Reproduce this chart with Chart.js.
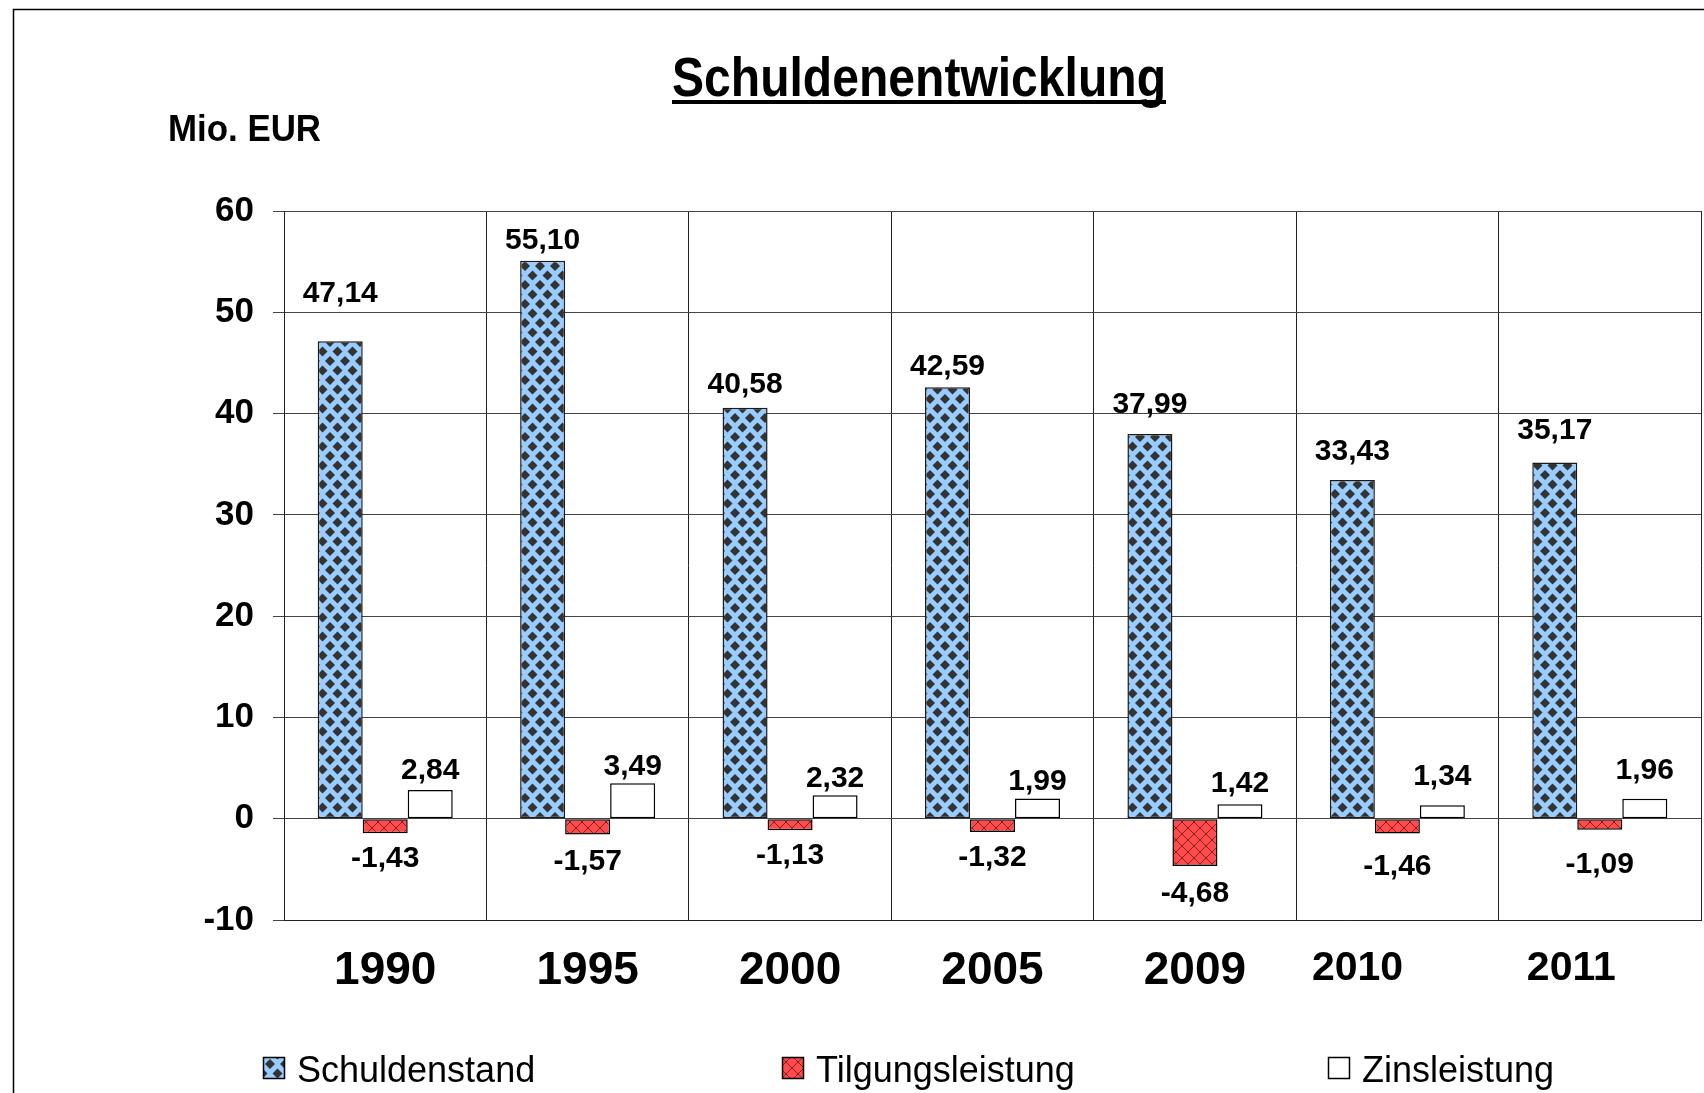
<!DOCTYPE html>
<html lang="de">
<head>
<meta charset="utf-8">
<title>Schuldenentwicklung</title>
<script src="https://cdn.jsdelivr.net/npm/chart.js@4.4.1/dist/chart.umd.min.js"></script>
<style>
  html, body { margin: 0; padding: 0; background: #fff; }
  #wrap { width: 1704px; height: 1093px; }
</style>
</head>
<body>
<div id="wrap"><canvas id="chartSchulden" width="1704" height="1093"></canvas></div>
<script>
const years = ['1990', '1995', '2000', '2005', '2009', '2010', '2011'];
const schuldenstand = [47.14, 55.10, 40.58, 42.59, 37.99, 33.43, 35.17];
const tilgungsleistung = [-1.43, -1.57, -1.13, -1.32, -4.68, -1.46, -1.09];
const zinsleistung = [2.84, 3.49, 2.32, 1.99, 1.42, 1.34, 1.96];
const yTicks = [-10, 0, 10, 20, 30, 40, 50, 60];

// label gap (px) between bar end and its value label, per year
const gapSchulden = [39, 12, 15, 12, 21, 20, 23];
const gapTilgung = [12, 13, 12, 12, 14, 19, 21];
const gapZins = [11, 8, 8, 9, 12, 20, 20];
// the last two year labels sit a bit left of centre in the original
const yearLabelPad = ['', '', '', '', '', '       ', '     '];

const FONT = "'Liberation Sans', Arial, Helvetica, sans-serif";

function makePattern(w, h, paint) {
  const c = document.createElement('canvas');
  c.width = w;
  c.height = h;
  paint(c.getContext('2d'), w, h);
  return document.createElement('canvas').getContext('2d').createPattern(c, 'repeat');
}

const bluePattern = makePattern(15, 19, (g, w, h) => {
  g.fillStyle = '#99ccff';
  g.fillRect(0, 0, w, h);
  g.fillStyle = '#333333';
  const diamond = (cx, cy) => {
    g.beginPath();
    g.moveTo(cx, cy - 5);
    g.lineTo(cx + 5, cy);
    g.lineTo(cx, cy + 5);
    g.lineTo(cx - 5, cy);
    g.closePath();
    g.fill();
  };
  [[0, 0], [15, 0], [7.5, 9.5], [0, 19], [15, 19]].forEach(([x, y]) => diamond(x, y));
});

const redPattern = makePattern(12, 12, (g, w, h) => {
  g.fillStyle = '#ff4b4b';
  g.fillRect(0, 0, w, h);
  g.strokeStyle = 'rgba(90,20,20,0.75)';
  g.lineWidth = 1;
  g.beginPath();
  g.moveTo(0, 0); g.lineTo(w, h);
  g.moveTo(w, 0); g.lineTo(0, h);
  g.stroke();
});

const fmt = (v) => v.toFixed(2).replace('.', ',');

const decorations = {
  id: 'decorations',
  beforeDraw(chart) {
    const ctx = chart.ctx;
    ctx.save();
    ctx.fillStyle = '#fff';
    ctx.fillRect(0, 0, chart.width, chart.height);
    ctx.restore();
  },
  afterDatasetsDraw(chart) {
    const ctx = chart.ctx;
    const gaps = [gapSchulden, gapTilgung, gapZins];
    ctx.save();
    ctx.font = `bold 30px ${FONT}`;
    ctx.fillStyle = '#000';
    ctx.textAlign = 'center';
    ctx.textBaseline = 'alphabetic';
    chart.data.datasets.forEach((ds, i) => {
      const meta = chart.getDatasetMeta(i);
      meta.data.forEach((bar, j) => {
        const v = ds.data[j];
        const gap = gaps[i][j];
        if (v >= 0) {
          ctx.fillText(fmt(v), bar.x, bar.y - gap);
        } else {
          ctx.fillText(fmt(v), bar.x, bar.y + gap + 22);
        }
      });
    });
    ctx.restore();
  },
  afterDraw(chart) {
    const ctx = chart.ctx;
    ctx.save();
    // outer frame
    ctx.strokeStyle = '#000';
    ctx.lineWidth = 1.5;
    ctx.strokeRect(13.5, 9.5, chart.width + 20, chart.height + 20);

    // title, underlined
    ctx.fillStyle = '#000';
    ctx.font = `bold 56px ${FONT}`;
    ctx.textBaseline = 'alphabetic';
    const title = 'Schuldenentwicklung';
    const tw = ctx.measureText(title).width;
    ctx.save();
    ctx.translate(672, 96);
    ctx.scale(494 / tw, 1);
    ctx.fillText(title, 0, 0);
    ctx.restore();
    ctx.fillRect(672, 100, 494, 4);

    // unit label
    ctx.font = `bold 36px ${FONT}`;
    const unit = 'Mio. EUR';
    const uw = ctx.measureText(unit).width;
    ctx.save();
    ctx.translate(168, 141);
    ctx.scale(153 / uw, 1);
    ctx.fillText(unit, 0, 0);
    ctx.restore();

    // legend
    const items = [
      { text: 'Schuldenstand', fill: bluePattern, x: 263 },
      { text: 'Tilgungsleistung', fill: redPattern, x: 782 },
      { text: 'Zinsleistung', fill: '#ffffff', x: 1328 },
    ];
    ctx.font = `36px ${FONT}`;
    items.forEach((it) => {
      ctx.fillStyle = it.fill;
      ctx.fillRect(it.x, 1057, 22, 22);
      ctx.strokeStyle = '#000';
      ctx.lineWidth = 1.5;
      ctx.strokeRect(it.x + 0.5, 1057.5, 21, 21);
      ctx.fillStyle = '#000';
      ctx.fillText(it.text, it.x + 34, 1082);
    });
    ctx.restore();
  },
};

Chart.defaults.font.family = FONT;
Chart.defaults.color = '#000';

new Chart(document.getElementById('chartSchulden').getContext('2d'), {
  type: 'bar',
  data: {
    labels: years,
    datasets: [
      {
        label: 'Schuldenstand',
        data: schuldenstand,
        backgroundColor: bluePattern,
        borderColor: '#1a1a1a',
        borderWidth: 1.5,
        borderSkipped: false,
      },
      {
        label: 'Tilgungsleistung',
        data: tilgungsleistung,
        backgroundColor: redPattern,
        borderColor: '#000',
        borderWidth: 1.5,
        borderSkipped: false,
      },
      {
        label: 'Zinsleistung',
        data: zinsleistung,
        backgroundColor: '#ffffff',
        borderColor: '#000',
        borderWidth: 1.5,
        borderSkipped: false,
      },
    ],
  },
  options: {
    responsive: false,
    animation: false,
    devicePixelRatio: 1,
    layout: { padding: { top: 211, right: 3, bottom: 73, left: 0 } },
    datasets: { bar: { categoryPercentage: 0.667, barPercentage: 1.0 } },
    scales: {
      x: {
        afterFit: (scale) => { scale.height = 100; },
        grid: { offset: true, drawTicks: false, color: '#222', lineWidth: 1 },
        border: { color: '#222' },
        ticks: {
          padding: 24,
          callback(value, index) {
            return this.getLabelForValue(value) + yearLabelPad[index];
          },
          font: (ctx) => ({ size: ctx.index >= 5 ? 41 : 46, weight: 'bold' }),
        },
      },
      y: {
        min: yTicks[0],
        max: yTicks[yTicks.length - 1],
        afterFit: (scale) => { scale.width = 284; },
        ticks: { stepSize: 10, padding: 19, font: { size: 35, weight: 'bold' } },
        grid: { color: '#444', lineWidth: 1, tickLength: 11 },
        border: { color: '#222' },
      },
    },
    plugins: {
      legend: { display: false },
      title: { display: false },
      tooltip: { enabled: false },
    },
  },
  plugins: [decorations],
});
</script>
</body>
</html>
